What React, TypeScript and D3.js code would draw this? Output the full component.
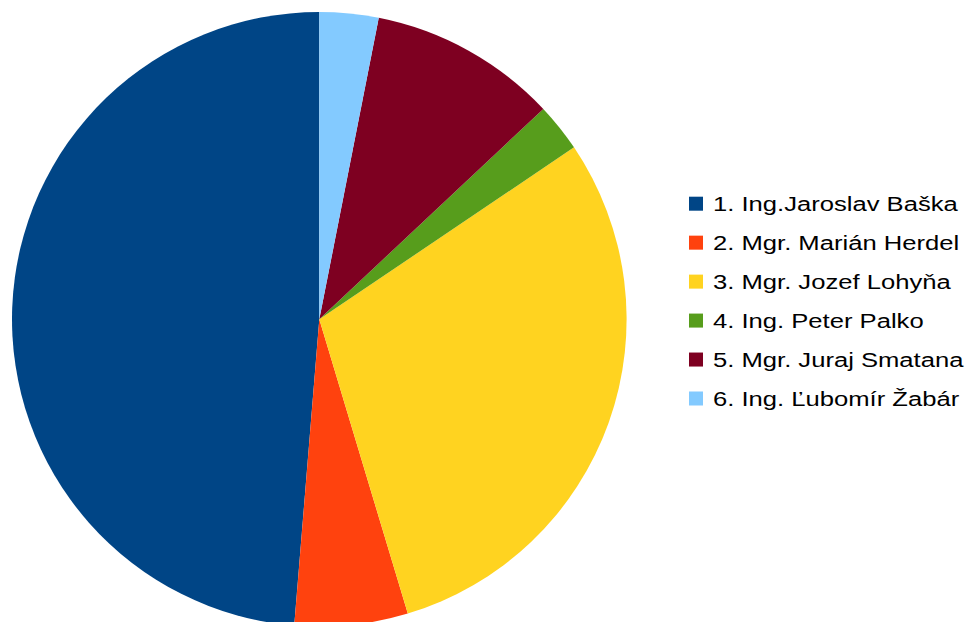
import React from "react";
import * as d3 from "d3";

// candidates (legend order) and their share of the vote
const candidates = [
  "1. Ing.Jaroslav Baška",
  "2. Mgr. Marián Herdel",
  "3. Mgr. Jozef Lohyňa",
  "4. Ing. Peter Palko",
  "5. Mgr. Juraj Smatana",
  "6. Ing. Ľubomír Žabár",
];
const shares = [48.7, 5.95, 29.8, 2.55, 9.9, 3.1];
const palette = ["#004586", "#ff420e", "#ffd320", "#579d1c", "#7e0021", "#83caff"];

const width = 974;
const height = 622;

export default function App() {
  const cx = 319.3;
  const cy = 319.3;
  const radius = 307.3;

  // libreoffice draws the slices counter-clockwise from 12 o'clock
  const pie = d3
    .pie<number>()
    .sort(null)
    .startAngle(0)
    .endAngle(-2 * Math.PI);
  const arcs = pie(shares);
  const arc = d3.arc<d3.PieArcDatum<number>>().innerRadius(0).outerRadius(radius);

  const color = d3.scaleOrdinal<string, string>().domain(candidates).range(palette);
  const legendY = d3
    .scalePoint<string>()
    .domain(candidates)
    .range([203.7, 398.5]);

  return (
    <svg
      width={width}
      height={height}
      style={{ position: "absolute", left: 0, top: 0, display: "block" }}
    >
      <rect width={width} height={height} fill="#ffffff" />
      <g transform={`translate(${cx},${cy})`}>
        {arcs.map((a, i) => (
          <path key={i} d={arc(a) || ""} fill={color(candidates[i])} />
        ))}
      </g>
      <g fontFamily="'Liberation Sans', Arial, sans-serif" fontSize={21}>
        {candidates.map((name) => (
          <g key={name} transform={`translate(689,${legendY(name)})`}>
            <rect x={0} y={-7} width={14} height={14} fill={color(name)} />
            {/* the exported legend text is stretched sideways */}
            <text
              transform="translate(24,0) scale(1.22,1)"
              dy="0.36em"
              fill="#000000"
            >
              {name}
            </text>
          </g>
        ))}
      </g>
    </svg>
  );
}
